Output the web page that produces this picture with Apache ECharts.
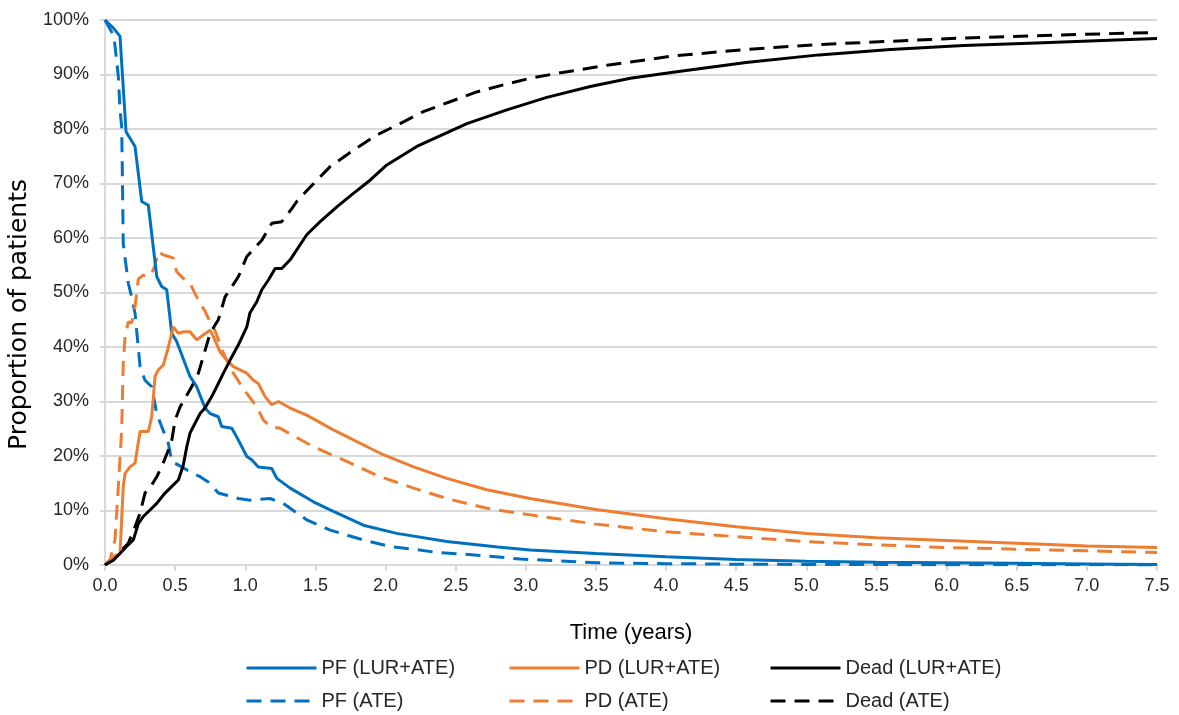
<!DOCTYPE html>
<html>
<head>
<meta charset="utf-8">
<script src="https://cdn.jsdelivr.net/npm/echarts@6/dist/echarts.min.js"></script>
<style>
html,body{margin:0;padding:0;background:#fff;}
#chart{width:1179px;height:715px;}
</style>
</head>
<body>
<div id="chart"></div>
<script>
// Series names
const seriesNames = ['PF (LUR+ATE)', 'PD (LUR+ATE)', 'Dead (LUR+ATE)', 'PF (ATE)', 'PD (ATE)', 'Dead (ATE)'];
// x ticks (years)
const xTicks = [0, 0.5, 1, 1.5, 2, 2.5, 3, 3.5, 4, 4.5, 5, 5.5, 6, 6.5, 7, 7.5];
// y ticks (percent)
const yTicks = [0, 10, 20, 30, 40, 50, 60, 70, 80, 90, 100];

// [time (years), proportion (%)]
const pfLur = [[0,100],[0.06,98.5],[0.107,97],[0.15,79.5],[0.214,76.8],[0.262,66.7],[0.309,66],[0.369,52.9],[0.404,51.1],[0.44,50.5],[0.476,42.5],[0.511,41],[0.606,34.6],[0.654,32.7],[0.713,28.8],[0.749,27.8],[0.808,27.2],[0.832,25.4],[0.904,25.1],[0.939,23.5],[1.011,19.9],[1.046,19.3],[1.093,18],[1.189,17.7],[1.225,15.9],[1.32,14.1],[1.486,11.6],[1.605,10.1],[1.842,7.3],[2.08,5.8],[2.437,4.3],[2.8,3.3],[3.03,2.75],[3.5,2.1],[4,1.5],[4.5,1.0],[5,0.7],[5.5,0.5],[6,0.4],[6.5,0.3],[7,0.2],[7.5,0.1]];
const pdLur = [[0,0],[0.059,1.5],[0.107,2.1],[0.13,14.4],[0.143,16.8],[0.178,18],[0.214,18.7],[0.25,24.5],[0.309,24.5],[0.333,27.2],[0.357,34.6],[0.38,35.8],[0.416,36.7],[0.452,40],[0.487,43.7],[0.523,42.5],[0.558,42.8],[0.606,42.8],[0.654,41.3],[0.701,42.2],[0.749,43.1],[0.773,41.9],[0.82,39.1],[0.868,37.6],[0.915,36.4],[0.963,35.8],[1.011,35.2],[1.058,33.9],[1.093,33.3],[1.141,30.9],[1.189,29.4],[1.236,30],[1.32,28.8],[1.438,27.5],[1.628,24.8],[1.962,20.5],[2.2,18],[2.437,15.9],[2.722,13.8],[3.03,12.2],[3.5,10.2],[4,8.5],[4.5,7.0],[5,5.8],[5.5,5.0],[6,4.5],[6.5,4.0],[7,3.5],[7.5,3.2]];
const deadLur = [[0,0],[0.06,0.9],[0.107,2.1],[0.154,3.4],[0.202,4.6],[0.238,7.6],[0.273,8.9],[0.321,10.1],[0.369,11.3],[0.428,13.2],[0.464,14.1],[0.523,15.6],[0.558,18.3],[0.583,21.7],[0.606,24.2],[0.642,26],[0.678,27.8],[0.713,28.8],[0.761,30.9],[0.808,33.3],[0.844,35.2],[0.892,37.6],[0.951,40.4],[1.011,43.7],[1.034,46.3],[1.082,48.3],[1.118,50.5],[1.165,52.3],[1.213,54.4],[1.26,54.4],[1.32,56],[1.438,60.6],[1.534,63],[1.653,65.7],[1.771,68.2],[1.89,70.6],[2.009,73.4],[2.223,76.8],[2.58,81],[2.865,83.5],[3.15,85.8],[3.46,87.8],[3.745,89.3],[4.05,90.4],[4.57,92.2],[5.09,93.6],[5.6,94.6],[6.12,95.3],[6.64,95.8],[7.16,96.3],[7.5,96.6]];
const pfAte = [[0,100],[0.064,97],[0.095,89.6],[0.107,83.5],[0.119,80.4],[0.124,71.3],[0.13,59],[0.166,51.7],[0.19,49.2],[0.214,46.2],[0.25,36.4],[0.285,33.9],[0.333,32.7],[0.369,27.8],[0.404,25.4],[0.452,22.3],[0.476,19],[0.547,18],[0.606,17.1],[0.678,16.2],[0.749,15],[0.808,13.2],[0.868,12.8],[0.951,12.2],[1.034,11.9],[1.177,12.2],[1.272,11.3],[1.32,10.4],[1.438,8.3],[1.605,6.4],[1.842,4.6],[2.03,3.4],[2.2,2.9],[2.366,2.3],[2.556,2],[2.72,1.65],[2.96,1.1],[3.5,0.4],[4,0.25],[4.5,0.15],[5,0.1],[6,0.05],[7.5,0.02]];
const pdAte = [[0,0],[0.036,0.9],[0.071,4.6],[0.095,14.4],[0.119,24.8],[0.13,37],[0.143,41.9],[0.166,44.6],[0.19,44.4],[0.214,47.4],[0.238,52.5],[0.273,53.2],[0.297,52.9],[0.333,53.5],[0.357,55],[0.38,57.5],[0.416,56.9],[0.452,56.6],[0.487,56.3],[0.511,53.8],[0.558,52.6],[0.606,51.7],[0.642,49.8],[0.678,48],[0.713,46.6],[0.749,44.6],[0.785,43],[0.82,40.5],[0.856,38.2],[0.915,35.2],[0.963,33.3],[1.011,31.5],[1.082,29],[1.129,26.6],[1.177,25.4],[1.248,25.1],[1.486,21.7],[1.724,19],[1.962,16.2],[2.2,14.1],[2.437,12.2],[2.722,10.4],[3.03,9.2],[3.5,7.5],[4,6.1],[4.5,5.2],[5,4.3],[5.5,3.7],[6,3.2],[6.5,2.9],[7,2.6],[7.5,2.3]];
const deadAte = [[0,0],[0.024,0.6],[0.095,2.1],[0.166,4],[0.214,7],[0.25,9.5],[0.285,13.2],[0.333,14.7],[0.369,16.2],[0.404,18],[0.452,21.1],[0.476,22.9],[0.5,26.6],[0.535,29],[0.571,30.6],[0.618,32.7],[0.666,35.2],[0.749,42.5],[0.808,45],[0.856,49.2],[0.915,51.5],[0.951,52.9],[1.011,56.6],[1.118,59.6],[1.189,62.7],[1.26,63],[1.332,65.4],[1.367,66.7],[1.462,69.3],[1.605,73.1],[1.771,76.1],[1.938,78.9],[2.104,81],[2.27,83.2],[2.46,85],[2.65,86.8],[2.84,88.1],[3.03,89.3],[3.22,90.2],[3.39,90.9],[3.58,91.7],[3.745,92.3],[4.05,93.4],[4.57,94.6],[5.09,95.5],[5.6,96.1],[6.12,96.7],[6.64,97.1],[7.16,97.5],[7.5,97.7]];

const BLUE = '#0070C0', ORANGE = '#ED7D31', BLACK = '#000000';
const FONT = "'Liberation Sans', Arial, sans-serif";
const WIDE = "'DejaVu Sans', 'Liberation Sans', sans-serif";
const DASH = [15, 9];

function mk(name, data, color, dashed) {
  return {
    name: name, type: 'line', data: data, symbol: 'none', showSymbol: false,
    animation: false, z: dashed ? 2 : 3,
    lineStyle: { color: color, width: 3, type: dashed ? DASH : 'solid', cap: 'butt' },
    itemStyle: { color: color }
  };
}

const legendLefts = [240, 503, 764];
const legendTops = [653, 686];
const legends = seriesNames.map((n, i) => ({
  data: [n], left: legendLefts[i % 3], top: legendTops[Math.floor(i / 3)],
  itemWidth: 70, itemHeight: 14, itemGap: 0,
  itemStyle: { opacity: 0 },
  lineStyle: { width: 3 },
  textStyle: { fontFamily: FONT, fontSize: 20, color: '#262626' }
}));

const chart = echarts.init(document.getElementById('chart'), null, { renderer: 'canvas' });
chart.setOption({
  backgroundColor: '#ffffff',
  animation: false,
  grid: { left: 105, right: 22, top: 20, bottom: 150, containLabel: false, outerBoundsMode: 'none' },
  xAxis: {
    type: 'value', min: xTicks[0], max: xTicks[xTicks.length - 1], interval: 0.5,
    name: 'Time (years)', nameLocation: 'middle', nameGap: 57,
    nameTextStyle: { fontFamily: FONT, fontSize: 22, color: '#000' },
    axisLine: { show: true, lineStyle: { color: '#d9d9d9', width: 2 } },
    axisTick: { show: true, length: 6, lineStyle: { color: '#d9d9d9', width: 2 } },
    splitLine: { show: false },
    axisLabel: { fontFamily: FONT, fontSize: 18, color: '#262626', margin: 12,
      formatter: v => v.toFixed(1) }
  },
  yAxis: {
    type: 'value', min: yTicks[0], max: yTicks[yTicks.length - 1], interval: 10,
    name: 'Proportion of patients', nameLocation: 'middle', nameGap: 70,
    nameTextStyle: { fontFamily: WIDE, fontSize: 25, color: '#000', padding: [0, 44, 0, 0] },
    axisLine: { show: true, lineStyle: { color: '#d9d9d9', width: 2 } },
    axisTick: { show: true, length: 5, lineStyle: { color: '#d9d9d9', width: 2 } },
    splitLine: { show: true, lineStyle: { color: '#d9d9d9', width: 2 } },
    axisLabel: { fontFamily: FONT, fontSize: 18, color: '#262626', margin: 16,
      formatter: v => v + '%' }
  },
  legend: legends,
  series: [
    mk(seriesNames[3], pfAte, BLUE, true),
    mk(seriesNames[4], pdAte, ORANGE, true),
    mk(seriesNames[5], deadAte, BLACK, true),
    mk(seriesNames[0], pfLur, BLUE, false),
    mk(seriesNames[1], pdLur, ORANGE, false),
    mk(seriesNames[2], deadLur, BLACK, false)
  ]
});
</script>
</body>
</html>
